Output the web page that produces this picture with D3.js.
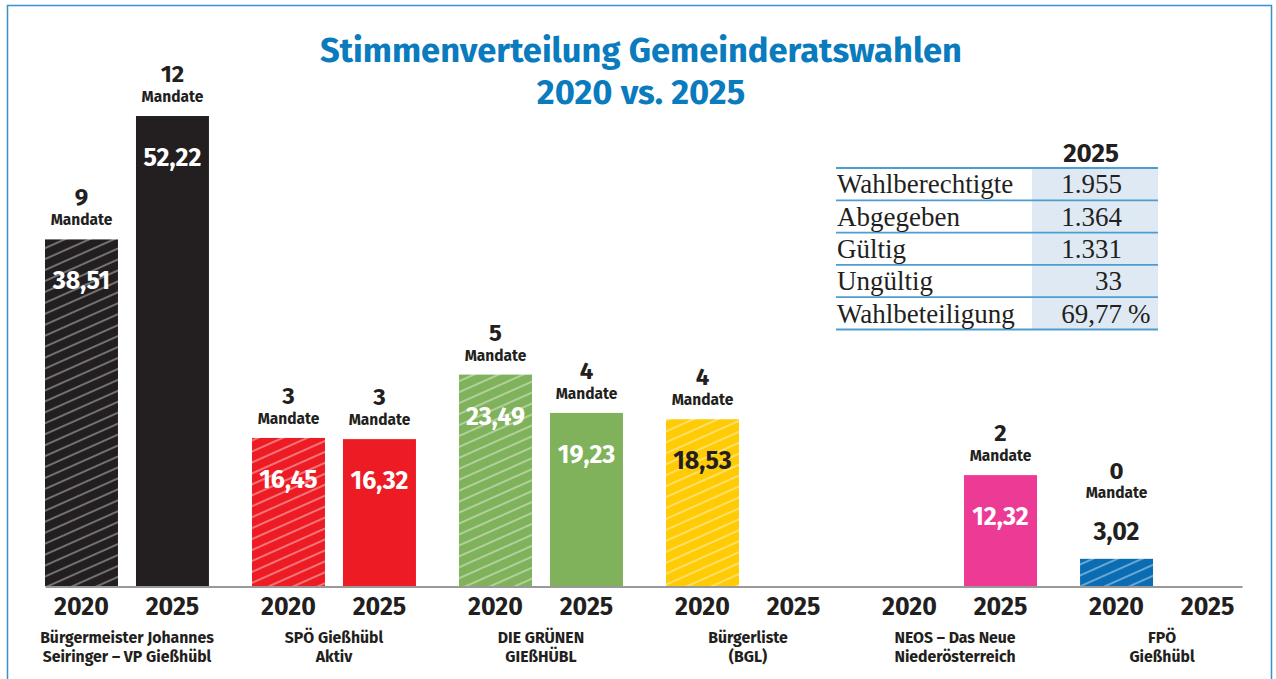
<!DOCTYPE html>
<html><head><meta charset="utf-8">
<script src="https://cdn.jsdelivr.net/npm/d3@7"></script>
<style>
html,body{margin:0;padding:0;background:#fff;}
svg{display:block;}
</style></head>
<body>
<svg id="chart" width="1276" height="679"></svg>
<script>
// ---- data ----
const parties = [
  ["Bürgermeister Johannes", "Seiringer – VP Gießhübl"],
  ["SPÖ Gießhübl", "Aktiv"],
  ["DIE GRÜNEN", "GIEßHÜBL"],
  ["Bürgerliste", "(BGL)"],
  ["NEOS – Das Neue", "Niederösterreich"],
  ["FPÖ", "Gießhübl"]
];
const years = ["2020", "2025"];
const votes2020 = [38.51, 16.45, 23.49, 18.53, null, 3.02];
const votes2025 = [52.22, 16.32, 19.23, null, 12.32, null];
const mandates2020 = [9, 3, 5, 4, null, 0];
const mandates2025 = [12, 3, 4, null, 2, null];
const partyColors = ["#231f20", "#ed1c24", "#80b25c", "#ffcb05", "#ec3a95", "#0a6db3"];
const titleLines = ["Stimmenverteilung Gemeinderatswahlen", "2020 vs. 2025"];
const tableHeader = "2025";
const tableLabels = ["Wahlberechtigte", "Abgegeben", "Gültig", "Ungültig", "Wahlbeteiligung"];
const tableValues = ["1.955", "1.364", "1.331", "33", "69,77"];
const tableUnits = ["", "", "", "", "%"];

// ---- setup ----
const svg = d3.select("#chart");
const dark = "#231f20";
const sans = "'Fira Sans', Roboto, 'Noto Sans', sans-serif";
const serif = "'Liberation Serif', 'DejaVu Serif', serif";

// frame
svg.append("rect").attr("x", 7.5).attr("y", 5.5).attr("width", 1264).attr("height", 700)
  .attr("fill", "none").attr("stroke", "#3b8fca").attr("stroke-width", 1.5);

// title
svg.append("g").selectAll("text").data(titleLines).join("text")
  .attr("x", 641).attr("y", (d, i) => 62 + i * 42)
  .attr("text-anchor", "middle")
  .attr("font-family", sans).attr("font-weight", 700).attr("font-size", 34.5)
  .attr("fill", "#0a7bbd")
  .text(d => d);

// scales
const x0 = d3.scaleBand().domain(d3.range(parties.length)).range([45, 1244]).paddingInner(0.208).paddingOuter(0);
const x1 = d3.scaleBand().domain(years).range([0, x0.bandwidth()]).paddingInner(0.198);
const y = d3.scaleLinear().domain([0, 60]).range([586, 46]);

// hatch patterns
const defs = svg.append("defs");
partyColors.forEach((c, i) => {
  const p = defs.append("pattern").attr("id", "hatch" + i)
    .attr("patternUnits", "userSpaceOnUse").attr("width", 20).attr("height", 10)
    .attr("patternTransform", "rotate(-24)");
  p.append("rect").attr("width", 20).attr("height", 10).attr("fill", c);
  p.append("line").attr("x1", 0).attr("x2", 20).attr("y1", 5).attr("y2", 5)
    .attr("stroke", i === 0 ? "#9d9d9d" : "rgba(255,255,255,0.6)").attr("stroke-width", 1.3);
});

// bar records
const bars = [];
parties.forEach((p, i) => {
  [[votes2020, mandates2020, "2020"], [votes2025, mandates2025, "2025"]].forEach(([v, m, yr]) => {
    bars.push({ party: i, year: yr, value: v[i], mandates: m[i] });
  });
});
const present = bars.filter(d => d.value != null);

const gBars = svg.append("g");
gBars.selectAll("rect").data(present).join("rect")
  .attr("x", d => x0(d.party) + x1(d.year))
  .attr("width", x1.bandwidth())
  .attr("y", d => y(d.value))
  .attr("height", d => y(0) - y(d.value))
  .attr("fill", d => d.year === "2020" ? `url(#hatch${d.party})` : partyColors[d.party]);

const cx = d => x0(d.party) + x1(d.year) + x1.bandwidth() / 2;
const small = d => (y(0) - y(d.value)) < 70;

// value labels
gBars.selectAll("text.val").data(present).join("text").attr("class", "val")
  .attr("x", cx)
  .attr("y", d => small(d) ? y(d.value) - 19 : y(d.value) + 50)
  .attr("text-anchor", "middle")
  .attr("font-family", sans).attr("font-weight", 700).attr("font-size", 25)
  .attr("fill", d => small(d) || d.party === 3 ? dark : "#fff")
  .text(d => d3.format(".2f")(d.value).replace(".", ","));

// mandate labels
gBars.selectAll("text.mn").data(present).join("text").attr("class", "mn")
  .attr("x", cx)
  .attr("y", d => small(d) ? y(d.value) - 80 : y(d.value) - 34)
  .attr("text-anchor", "middle")
  .attr("font-family", sans).attr("font-weight", 700).attr("font-size", 24)
  .attr("fill", dark)
  .text(d => d.mandates);
gBars.selectAll("text.mw").data(present).join("text").attr("class", "mw")
  .attr("x", cx)
  .attr("y", d => small(d) ? y(d.value) - 61 : y(d.value) - 14)
  .attr("text-anchor", "middle")
  .attr("font-family", sans).attr("font-weight", 700).attr("font-size", 15.5)
  .attr("fill", dark)
  .text("Mandate");

// baseline axis
const axisScale = d3.scaleLinear().range([45, 1242]);
svg.append("g").attr("transform", `translate(0,${y(0) + 0.5})`)
  .call(d3.axisBottom(axisScale).tickValues([]).tickSizeOuter(0))
  .call(g => g.select(".domain").attr("stroke", "#777").attr("stroke-width", 1.5));

// year labels
svg.append("g").selectAll("text").data(bars).join("text")
  .attr("x", cx).attr("y", 615)
  .attr("text-anchor", "middle")
  .attr("font-family", sans).attr("font-weight", 700).attr("font-size", 25)
  .attr("fill", dark)
  .text(d => d.year);

// party labels
const gp = svg.append("g").selectAll("text").data(parties).join("text")
  .attr("text-anchor", "middle")
  .attr("font-family", sans).attr("font-weight", 700).attr("font-size", 15.8)
  .attr("fill", dark);
gp.selectAll("tspan").data((d, i) => d.map(t => ({ t, i }))).join("tspan")
  .attr("x", d => x0(d.i) + x0.bandwidth() / 2)
  .attr("y", (d, j) => 643 + j * 19)
  .text(d => d.t);

// table
const tx0 = 836, tx1 = 1158, tvx = 1032;
const rowY = d3.scaleLinear().domain([0, tableLabels.length]).range([168, 329.5]);
const gt = svg.append("g");
gt.append("rect").attr("x", tvx).attr("y", rowY(0)).attr("width", tx1 - tvx)
  .attr("height", rowY(tableLabels.length) - rowY(0)).attr("fill", "#dfe9f3");
gt.selectAll("line").data(d3.range(tableLabels.length + 1)).join("line")
  .attr("x1", tx0).attr("x2", tx1).attr("y1", d => rowY(d)).attr("y2", d => rowY(d))
  .attr("stroke", "#4e9dd0").attr("stroke-width", 1.8);
gt.append("text").attr("x", 1091).attr("y", 162).attr("text-anchor", "middle")
  .attr("font-family", sans).attr("font-weight", 700).attr("font-size", 26).attr("fill", dark)
  .text(tableHeader);
gt.selectAll("text.lab").data(tableLabels).join("text").attr("class", "lab")
  .attr("x", tx0 + 1).attr("y", (d, i) => rowY(i + 1) - 7)
  .attr("font-family", serif).attr("font-size", 27).attr("fill", dark)
  .text(d => d);
gt.selectAll("text.val").data(tableValues).join("text").attr("class", "val")
  .attr("x", 1122).attr("y", (d, i) => rowY(i + 1) - 7).attr("text-anchor", "end")
  .attr("font-family", serif).attr("font-size", 27).attr("fill", dark)
  .text(d => d);
gt.selectAll("text.unit").data(tableUnits).join("text").attr("class", "unit")
  .attr("x", 1128).attr("y", (d, i) => rowY(i + 1) - 7)
  .attr("font-family", serif).attr("font-size", 27).attr("fill", dark)
  .text(d => d);
</script>
</body></html>
